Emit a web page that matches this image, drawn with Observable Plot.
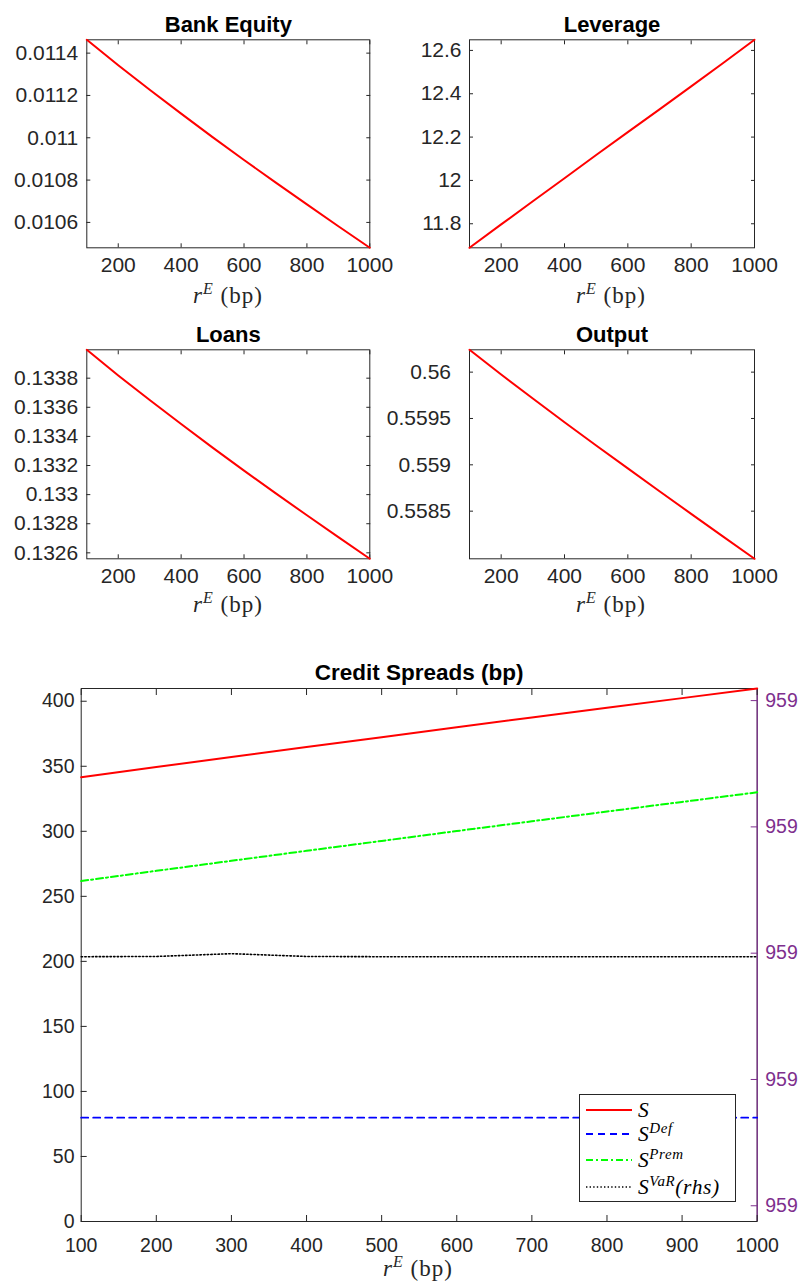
<!DOCTYPE html>
<html>
<head>
<meta charset="utf-8">
<script src="https://cdn.jsdelivr.net/npm/d3@7"></script>
<script src="https://cdn.jsdelivr.net/npm/@observablehq/plot@0.6"></script>
<style>
  body { margin: 0; background: #fff; }
  #page { position: relative; width: 800px; height: 1283px; overflow: hidden; background: #fff;
          font-family: "Liberation Sans", Arial, Helvetica, sans-serif; }
  .panel { position: absolute; }
  .panel svg { overflow: visible; }
  .xlab { position: absolute; font-family: "Liberation Serif", "Times New Roman", serif; font-size: 23px;
          color: #262626; transform: translateX(-50%); white-space: nowrap; line-height: 1; letter-spacing: 1px; }
  .xlab .sup { position: relative; top: -9px; font-size: 16px; font-style: italic; }
  .legend { position: absolute; left: 579px; top: 1094px; width: 155px; height: 106px; border: 1px solid #262626;
            background: #fff; }
  .legend .row { position: absolute; left: 0; height: 24px; width: 155px; }
  .legend svg { position: absolute; left: 5px; top: 0; }
  .legend .lt { position: absolute; left: 58px; top: 0; font-family: "Liberation Serif", "Times New Roman", serif;
                font-style: italic; font-size: 21.5px; line-height: 24px; color: #000; white-space: nowrap; letter-spacing: 0.6px; }
  .legend .lt .sup { position: relative; top: -8px; font-size: 15px; }
</style>
</head>
<body>
<div id="page"></div>
<script>
// ---------- data ----------
const rE = [100, 200, 300, 400, 500, 600, 700, 800, 900, 1000];

const bankEquity = [0.011463, 0.011343, 0.011227, 0.011114, 0.011003, 0.010895, 0.010789, 0.010685, 0.010582, 0.010480];
const leverage   = [11.689, 11.797, 11.904, 12.010, 12.117, 12.223, 12.328, 12.434, 12.541, 12.649];
const loans      = [0.133995, 0.133819, 0.133650, 0.133485, 0.133323, 0.133165, 0.133010, 0.132858, 0.132708, 0.132559];
const output     = [0.560241, 0.559975, 0.559715, 0.559460, 0.559209, 0.558961, 0.558715, 0.558471, 0.558228, 0.557986];

const spreadS    = [341.6, 349.4, 357.1, 364.8, 372.4, 380.0, 387.5, 395.0, 402.4, 409.8];
const spreadDef  = [79.8, 79.8, 79.8, 79.8, 79.8, 79.8, 79.8, 79.8, 79.8, 79.8];
const spreadPrem = [261.8, 269.6, 277.3, 285.0, 292.6, 300.2, 307.7, 315.2, 322.6, 330.0];
const spreadVaR  = [959.1986, 959.1987, 959.1998, 959.1987, 959.1986, 959.1986, 959.1986, 959.1986, 959.1986, 959.1986]; // rhs

const xTicksSmall = [200, 400, 600, 800, 1000];
const xTicksBig   = [100, 200, 300, 400, 500, 600, 700, 800, 900, 1000];
const yTicksEquity   = [0.0106, 0.0108, 0.011, 0.0112, 0.0114];
const yTicksLeverage = [11.8, 12, 12.2, 12.4, 12.6];
const yTicksLoans    = [0.1326, 0.1328, 0.133, 0.1332, 0.1334, 0.1336, 0.1338];
const yTicksOutput   = [0.5585, 0.559, 0.5595, 0.56];
const yTicksSpread   = [0, 50, 100, 150, 200, 250, 300, 350, 400];
const yTicksRhs      = [959.1, 959.15, 959.2, 959.25, 959.3];

// ---------- helpers ----------
const page = document.getElementById("page");
const INK = "#262626";
const PURPLE = "#7E2F8E";
const fmt = d => String(+(+d).toFixed(6));

function place(node, left, top) {
  const div = document.createElement("div");
  div.className = "panel";
  div.style.left = left + "px";
  div.style.top = top + "px";
  div.appendChild(node);
  page.appendChild(div);
}
function xlabel(cx, top) {
  const d = document.createElement("div");
  d.className = "xlab";
  d.style.left = cx + "px";
  d.style.top = top + "px";
  d.innerHTML = '<i>r</i><span class="sup">E</span>&nbsp;(bp)';
  page.appendChild(d);
}

function smallPanel({vals, yTicks, title, left, top, mL, mR, mT, mB, yPad}) {
  const data = rE.map((x, i) => ({x, v: vals[i]}));
  const p = Plot.plot({
    width: 400, height: 315,
    marginLeft: mL, marginRight: mR, marginTop: mT, marginBottom: mB,
    style: {fontFamily: '"Liberation Sans", Arial, sans-serif', color: INK, background: "transparent", overflow: "visible"},
    x: {domain: [100, 1000]},
    y: {domain: d3.extent(vals)},
    marks: [
      Plot.frame({stroke: INK, strokeWidth: 1}),
      Plot.axisX(xTicksSmall, {anchor: "bottom", tickSize: -4, tickPadding: 13, fontSize: 21, color: INK, label: null, tickFormat: d => String(d)}),
      Plot.axisX(xTicksSmall, {anchor: "top", tickSize: -4, color: INK, label: null, tickFormat: () => ""}),
      Plot.axisY(yTicks, {anchor: "left", tickSize: -4, tickPadding: yPad, fontSize: 21, color: INK, label: null, tickFormat: fmt}),
      Plot.axisY(yTicks, {anchor: "right", tickSize: -4, color: INK, label: null, tickFormat: () => ""}),
      Plot.line(data, {x: "x", y: "v", stroke: "#ff0000", strokeWidth: 2}),
      Plot.text([title], {text: d => d, frameAnchor: "top", lineAnchor: "bottom", dy: -7.5, fontSize: 22, fontWeight: "bold", fill: "#000"})
    ]
  });
  place(p, left, top);
}

// ---------- four small panels ----------
smallPanel({vals: bankEquity, yTicks: yTicksEquity, title: "Bank Equity", left: 0, top: 0, mL: 86.3, mR: 30.7, mT: 39.3, mB: 67.7, yPad: 12.6});
smallPanel({vals: leverage, yTicks: yTicksLeverage, title: "Leverage", left: 400, top: 0, mL: 69, mR: 46, mT: 39.3, mB: 67.7, yPad: 12});
smallPanel({vals: loans, yTicks: yTicksLoans, title: "Loans", left: 0, top: 315, mL: 86.3, mR: 30.7, mT: 34.3, mB: 71.7, yPad: 12.6});
smallPanel({vals: output, yTicks: yTicksOutput, title: "Output", left: 400, top: 315, mL: 69, mR: 46, mT: 34.3, mB: 71.7, yPad: 22.5});

xlabel(228, 284);
xlabel(611, 284);
xlabel(228, 593);
xlabel(611, 593);

// ---------- credit spreads panel ----------
// right-hand axis (rhs) mapped onto left-axis units
const rhsRef = 959.2, rhsRefLeft = 206.3, rhsStepVal = 0.05, rhsStepLeft = 97.1;
const toLeft = r => rhsRefLeft + (r - rhsRef) / rhsStepVal * rhsStepLeft;
const fromLeft = v => rhsRef + (v - rhsRefLeft) / rhsStepLeft * rhsStepVal;

const rows = rE.map((x, i) => ({x, s: spreadS[i], def: spreadDef[i], prem: spreadPrem[i], vaR: spreadVaR[i]}));

const big = Plot.plot({
  width: 800, height: 653,
  marginLeft: 80.7, marginRight: 43.3, marginTop: 58, marginBottom: 62,
  style: {fontFamily: '"Liberation Sans", Arial, sans-serif', color: INK, background: "transparent", overflow: "visible"},
  x: {domain: [100, 1000]},
  y: {domain: [0, d3.max(spreadS)]},
  marks: [
    Plot.frame({stroke: INK, strokeWidth: 1}),
    Plot.ruleX([1000], {stroke: PURPLE, strokeWidth: 1.2}),
    Plot.axisX(xTicksBig, {anchor: "bottom", tickSize: -6, tickPadding: 23, fontSize: 19.5, color: INK, label: null, tickFormat: d => String(d)}),
    Plot.axisX(xTicksBig, {anchor: "top", tickSize: -6, color: INK, label: null, tickFormat: () => ""}),
    Plot.axisY(yTicksSpread, {anchor: "left", tickSize: -6, tickPadding: 12.7, fontSize: 19.5, color: INK, label: null, tickFormat: d => String(d)}),
    Plot.axisY(yTicksRhs.map(toLeft), {anchor: "right", tickSize: -7, tickPadding: 15, fontSize: 19.5, color: PURPLE, label: null,
      tickFormat: v => d3.format(".0f")(fromLeft(v))}),
    Plot.line(rows, {x: "x", y: "def", stroke: "#0000ff", strokeWidth: 1.8, strokeDasharray: "7,5"}),
    Plot.line(rows, {x: "x", y: "prem", stroke: "#00ff00", strokeWidth: 2, strokeDasharray: "7,3,2,3"}),
    Plot.line(rows, {x: "x", y: d => toLeft(d.vaR), stroke: "#000", strokeWidth: 1.6, strokeDasharray: "1.4,2.2"}),
    Plot.line(rows, {x: "x", y: "s", stroke: "#ff0000", strokeWidth: 2}),
    Plot.text(["Credit Spreads (bp)"], {text: d => d, frameAnchor: "top", lineAnchor: "bottom", dy: -8.5, fontSize: 22.5, fontWeight: "bold", fill: "#000"})
  ]
});
place(big, 0, 630);
xlabel(418, 1257);

// ---------- legend ----------
const legendItems = [
  {label: 'S', color: "#ff0000", dash: null, w: 2},
  {label: 'S<span class="sup">Def</span>', color: "#0000ff", dash: "7,5", w: 1.8},
  {label: 'S<span class="sup">Prem</span>', color: "#00ff00", dash: "7,3,2,3", w: 2},
  {label: 'S<span class="sup">VaR</span>(rhs)', color: "#000", dash: "1.4,2.2", w: 1.6}
];
const legend = document.createElement("div");
legend.className = "legend";
const rowTops = [3, 27, 53, 80];
legendItems.forEach((it, i) => {
  const r = document.createElement("div");
  r.className = "row";
  r.style.top = rowTops[i] + "px";
  r.innerHTML = `<svg width="50" height="24"><line x1="1" x2="47" y1="12" y2="12" stroke="${it.color}" stroke-width="${it.w}" ${it.dash ? `stroke-dasharray="${it.dash}"` : ""}/></svg><span class="lt">${it.label}</span>`;
  legend.appendChild(r);
});
page.appendChild(legend);
</script>
</body>
</html>
